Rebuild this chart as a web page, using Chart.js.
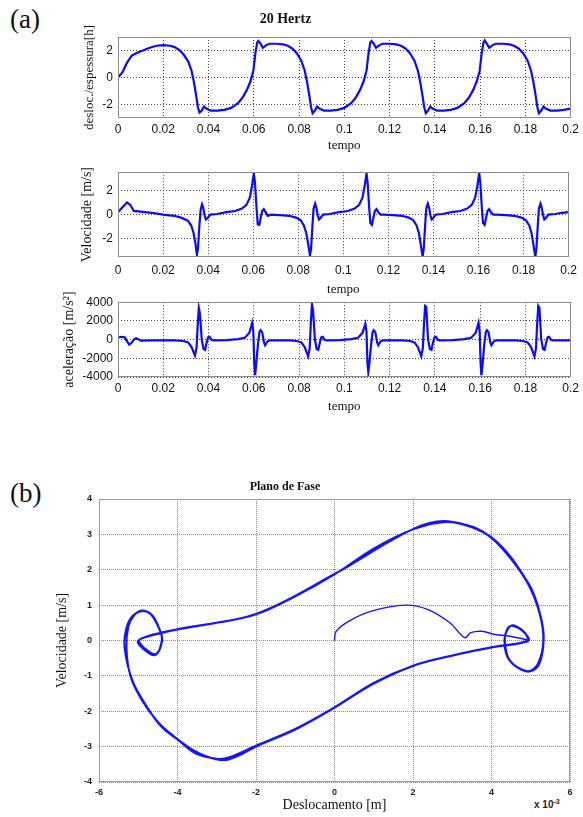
<!DOCTYPE html>
<html><head><meta charset="utf-8">
<script src="https://cdn.jsdelivr.net/npm/chart.js@4.4.0/dist/chart.umd.min.js"></script>
<style>
body{margin:0;background:#fff;width:583px;height:817px;position:relative;overflow:hidden}
canvas{position:absolute;left:0}
.lbl{position:absolute;font-family:"Liberation Serif","DejaVu Serif",serif;font-size:27px;color:#111}
.exp{position:absolute;font-family:"Liberation Sans",Arial,sans-serif;font-size:10px;font-weight:bold;color:#222}
</style></head><body>
<div class="lbl" style="left:10px;top:4px">(a)</div>
<div class="lbl" style="left:10px;top:478px">(b)</div>
<div class="exp" style="left:534px;top:798px">x 10<sup style="font-size:7px">-3</sup></div>
<canvas id="c1" width="583" height="160" style="top:0px"></canvas>
<canvas id="c2" width="583" height="140" style="top:160px"></canvas>
<canvas id="c3" width="583" height="140" style="top:290px"></canvas>
<canvas id="c4" width="583" height="377" style="top:440px"></canvas>
<script>
// ---------- data ----------
const timeTicks = [0,0.02,0.04,0.06,0.08,0.1,0.12,0.14,0.16,0.18,0.2];
const timeTickLabels = ["0","0.02","0.04","0.06","0.08","0.1","0.12","0.14","0.16","0.18","0.2"];
const dispTicks = [-2,0,2];
const velTicks = [-2,0,2];
const accTicks = [-4000,-2000,0,2000,4000];
const phaseXTicks = [-6,-4,-2,0,2,4,6];
const phaseYTicks = [-4,-3,-2,-1,0,1,2,3,4];

const dispT = [0,0.002,0.004,0.006,0.008,0.011,0.014,0.017,0.020,0.023,0.025,0.027,0.029,0.031,0.0325,0.0335,0.0345,0.0353,0.036,0.037,0.038,0.039,0.041,0.044,0.047,0.050,0.053,0.055,0.057,0.0585,0.0598,0.0607,0.0615,0.062,0.063,0.064,0.0655,0.067,0.070,0.073,0.075,0.077,0.079,0.081,0.0825,0.0835,0.0845,0.0853,0.086,0.087,0.088,0.089,0.091,0.094,0.097,0.100,0.103,0.105,0.107,0.1085,0.1098,0.1107,0.1115,0.112,0.113,0.114,0.1155,0.117,0.120,0.123,0.125,0.127,0.129,0.131,0.1325,0.1335,0.1345,0.1353,0.136,0.137,0.138,0.139,0.141,0.144,0.147,0.150,0.153,0.155,0.157,0.1585,0.1598,0.1607,0.1615,0.162,0.163,0.164,0.1655,0.167,0.170,0.173,0.175,0.177,0.179,0.181,0.1825,0.1835,0.1845,0.1853,0.186,0.187,0.188,0.189,0.191,0.194,0.197,0.2];
const dispV = [0,0.4,1.1,1.6,1.8,2.0,2.2,2.35,2.4,2.35,2.25,2.05,1.7,1.2,0.5,-0.3,-1.3,-2.2,-2.6,-2.45,-2.15,-2.3,-2.45,-2.45,-2.4,-2.25,-1.9,-1.5,-0.9,-0.3,0.5,1.8,2.6,2.7,2.5,2.2,2.4,2.5,2.5,2.45,2.35,2.15,1.8,1.25,0.5,-0.3,-1.3,-2.2,-2.65,-2.45,-2.15,-2.3,-2.45,-2.45,-2.4,-2.25,-1.9,-1.5,-0.9,-0.3,0.5,1.8,2.6,2.7,2.5,2.2,2.4,2.5,2.5,2.45,2.35,2.15,1.8,1.25,0.5,-0.3,-1.3,-2.2,-2.65,-2.45,-2.15,-2.3,-2.45,-2.45,-2.4,-2.25,-1.9,-1.5,-0.9,-0.3,0.5,1.8,2.6,2.75,2.5,2.2,2.4,2.5,2.5,2.45,2.35,2.15,1.8,1.25,0.5,-0.3,-1.3,-2.2,-2.65,-2.45,-2.15,-2.3,-2.45,-2.45,-2.4,-2.3];

const velT = [0,0.002,0.004,0.0055,0.007,0.010,0.015,0.020,0.025,0.028,0.031,0.0325,0.0335,0.0343,0.035,0.0355,0.036,0.0367,0.0373,0.0378,0.0385,0.039,0.0397,0.041,0.044,0.048,0.052,0.055,0.057,0.0585,0.0595,0.0603,0.0608,0.0615,0.062,0.0627,0.0633,0.064,0.0647,0.0655,0.0665,0.068,0.072,0.076,0.079,0.081,0.0825,0.0835,0.0843,0.0852,0.0857,0.0862,0.0868,0.0875,0.088,0.0887,0.0892,0.0898,0.091,0.094,0.098,0.102,0.105,0.107,0.1085,0.1095,0.1103,0.1108,0.1115,0.112,0.1127,0.1133,0.114,0.1147,0.1155,0.1165,0.118,0.122,0.126,0.129,0.131,0.1325,0.1335,0.1343,0.1352,0.1357,0.1362,0.1368,0.1375,0.138,0.1387,0.1392,0.1398,0.141,0.144,0.148,0.152,0.155,0.157,0.1585,0.1595,0.1603,0.1608,0.1615,0.162,0.1627,0.1633,0.164,0.1647,0.1655,0.1665,0.168,0.172,0.176,0.179,0.181,0.1825,0.1835,0.1843,0.1852,0.1857,0.1862,0.1868,0.1875,0.188,0.1887,0.1892,0.1898,0.191,0.194,0.197,0.2];
const velV = [0.2,0.6,1.0,0.8,0.3,0.25,0.15,0.0,-0.1,-0.25,-0.5,-0.9,-1.5,-2.3,-3.3,-2.8,-1.2,0.4,0.85,0.6,-0.1,-0.4,-0.3,0.0,0.05,0.2,0.3,0.5,0.8,1.4,2.4,3.4,2.6,0.5,-0.8,-0.85,-0.3,0.3,0.45,0.2,-0.1,0.0,-0.05,-0.1,-0.25,-0.45,-0.9,-1.5,-2.3,-3.4,-2.8,-1.2,0.5,0.9,0.6,-0.1,-0.4,-0.3,0.0,0.05,0.2,0.3,0.5,0.8,1.4,2.4,3.4,2.6,0.5,-0.7,-0.85,-0.3,0.3,0.45,0.2,0.0,0.0,-0.05,-0.1,-0.25,-0.45,-0.9,-1.5,-2.4,-3.5,-2.8,-1.2,0.5,0.9,0.6,-0.1,-0.4,-0.3,0.0,0.05,0.2,0.3,0.5,0.8,1.4,2.4,3.45,2.6,0.5,-0.7,-0.85,-0.3,0.3,0.45,0.2,0.0,0.0,-0.05,-0.1,-0.25,-0.45,-0.9,-1.5,-2.4,-3.5,-2.8,-1.2,0.5,0.9,0.6,-0.1,-0.4,-0.3,0.0,0.05,0.15,0.2];

const accT = [0,0.0015,0.003,0.004,0.005,0.006,0.007,0.008,0.009,0.010,0.015,0.020,0.025,0.029,0.031,0.0325,0.034,0.0347,0.0352,0.0357,0.0362,0.037,0.0378,0.0385,0.039,0.0398,0.0405,0.0412,0.042,0.048,0.053,0.056,0.058,0.0593,0.0598,0.0602,0.0606,0.061,0.0618,0.0625,0.063,0.0637,0.0645,0.065,0.066,0.067,0.072,0.076,0.079,0.081,0.0825,0.084,0.0847,0.0852,0.0857,0.0862,0.087,0.0878,0.0885,0.089,0.0898,0.0905,0.0912,0.092,0.098,0.103,0.106,0.108,0.1093,0.1098,0.1102,0.1106,0.111,0.1118,0.1125,0.113,0.1137,0.1145,0.115,0.116,0.117,0.122,0.126,0.129,0.131,0.1325,0.134,0.1347,0.1352,0.1357,0.1362,0.137,0.1378,0.1385,0.139,0.1398,0.1405,0.1412,0.142,0.148,0.153,0.156,0.158,0.1593,0.1598,0.1602,0.1606,0.161,0.1618,0.1625,0.163,0.1637,0.1645,0.165,0.166,0.167,0.172,0.176,0.179,0.181,0.1825,0.184,0.1847,0.1852,0.1857,0.1862,0.187,0.1878,0.1885,0.189,0.1898,0.1905,0.1912,0.192,0.2];
const accV = [200,300,250,-200,-550,-350,0,150,50,-100,-80,-80,-80,-150,-300,-800,-1700,-900,1500,3400,2800,0,-1000,-1100,-500,250,300,0,-80,-50,50,200,700,1800,800,-2500,-3800,-2800,-600,800,1000,800,-300,-600,-200,-80,-80,-80,-150,-300,-800,-1800,-900,1800,3800,3100,0,-1000,-1100,-500,250,300,0,-80,-50,50,200,700,1700,800,-2500,-3500,-2700,-600,800,1000,800,-300,-600,-200,-80,-80,-80,-150,-300,-800,-1800,-900,1700,3600,3500,0,-1000,-1100,-500,250,300,0,-80,-50,50,200,700,1800,800,-2500,-3800,-2800,-600,800,1000,800,-300,-600,-200,-80,-80,-80,-150,-300,-800,-1800,-900,1700,3600,3400,0,-1000,-1100,-500,250,300,0,-80,-80];

// phase plane: displacement (x 10^-3 m) and velocity (m/s)
const phaseX = [0,0.04,0.37,0.94,1.8,2.37,2.94,3.32,3.47,3.75,4.09,4.47,4.94,
 4,3,2,1,0,-1,-2,-2.68,-2.96,-3.53,-4,-4.4,-4.77,-5.15,-5.35,-5.3,-5.15,-4.91,-4.68,-4.44,-4.39,-4.54,-4.77,-4.98,
 -4.8,-4,-3,-2,-1,0,1,2,2.85,3.5,4,4.5,4.94,5.23,5.32,5.18,4.92,4.47,4.34,4.42,4.56,4.8,4.94,
 4,3,2,1,0,-1,-2,-2.5,-2.8,-3.2,-3.6,-4.1,-4.5,-4.9,-5.2,-5.3,-5.25,-5.1,-4.9,-4.65,-4.45,-4.4,-4.55,-4.8,-5,
 -4,-2,0,2,2.9,4,4.95,5.25,5.33,5.2,4.9,4.45,4.33,4.45,4.6,4.85,4.95];
const phaseY = [0,0.26,0.55,0.83,1.0,0.88,0.5,0.08,0.22,0.26,0.17,0.12,-0.02,
 -0.19,-0.42,-0.71,-1.2,-1.89,-2.5,-2.97,-3.3,-3.35,-3.2,-2.8,-2.45,-1.89,-1.13,-0.19,0.36,0.69,0.83,0.74,0.26,0,-0.38,-0.28,0,
 0.1,0.31,0.5,0.74,1.25,1.87,2.6,3.14,3.35,3.2,2.9,2.3,1.58,0.74,0,-0.66,-0.87,-0.57,0,0.36,0.41,0.26,0,
 -0.2,-0.43,-0.72,-1.22,-1.9,-2.52,-3.0,-3.28,-3.38,-3.3,-3.1,-2.7,-2.3,-1.7,-1.0,-0.2,0.4,0.72,0.85,0.72,0.3,0,-0.4,-0.3,0,
 0.32,0.75,1.88,3.15,3.37,2.92,1.6,0.7,0,-0.7,-0.88,-0.55,0,0.38,0.42,0.22,0];

// ---------- helpers ----------
const pts = (xs, ys) => xs.map((x, i) => ({x, y: ys[i]}));
const frame = {
  id: 'frame',
  afterDraw(chart, args, o) {
    const {ctx, chartArea: a} = chart;
    ctx.save(); ctx.strokeStyle = o.color || '#8a8a8a'; ctx.lineWidth = 1;
    ctx.strokeRect(Math.round(a.left) + 0.5, Math.round(a.top) + 0.5, Math.round(a.right - a.left) - 1, Math.round(a.bottom - a.top) - 1);
    ctx.restore();
  }
};
const sansTick = {family: '"Liberation Sans", Arial, sans-serif', size: 12};
const serifFam = '"Liberation Serif", "Times New Roman", serif';
const gridA = {color: 'rgba(30,30,30,0.85)', lineWidth: 1, drawTicks: false, tickLength: 0};
const gridB = {color: 'rgba(110,110,110,0.8)', lineWidth: 1, drawTicks: false, tickLength: 0};

function timeChart(id, cfg) {
  return new Chart(document.getElementById(id), {
    type: 'scatter',
    data: {datasets: [{data: pts(cfg.t, cfg.v), showLine: true, borderColor: '#0a0aff', borderWidth: 2.2, pointRadius: 0, tension: 0, fill: false}]},
    plugins: [frame],
    options: {
      responsive: false, animation: false, devicePixelRatio: 1,
      layout: {padding: {left: 0, right: 12, top: cfg.padTop, bottom: 0}},
      plugins: {legend: {display: false}, tooltip: {enabled: false},
        title: cfg.title ? {display: true, text: cfg.title, color: '#111',
          font: {family: serifFam, size: 14, weight: 'bold', lineHeight: 1},
          padding: {top: 12, bottom: 11}} : {display: false},
        frame: {color: '#8a8a8a'}},
      scales: {
        x: {type: 'linear', min: 0, max: 0.2,
          afterBuildTicks: s => { s.ticks = timeTicks.map(v => ({value: v})); },
          afterFit: s => { s.height = cfg.xh; },
          ticks: {font: sansTick, color: '#111', padding: cfg.xpad, maxRotation: 0, autoSkip: false,
            callback: (v, i) => timeTickLabels[i]},
          grid: gridA,
          border: {display: false, dash: [1, 2]},
          title: {display: true, text: 'tempo', color: '#111', font: {family: serifFam, size: 13}, padding: {top: 0, bottom: cfg.tpad}}},
        y: {type: 'linear', min: cfg.ymin, max: cfg.ymax,
          afterBuildTicks: s => { s.ticks = cfg.yt.map(v => ({value: v})); },
          afterFit: s => { s.width = 118; },
          ticks: {font: sansTick, color: '#111', padding: 5, autoSkip: false, callback: v => String(v)},
          grid: gridA,
          border: {display: false, dash: [1, 2]},
          title: {display: true, text: cfg.ylab, color: '#111', font: {family: serifFam, size: cfg.ylabSize}, padding: {top: cfg.ylx, bottom: 0}}}
      }
    }
  });
}

timeChart('c1', {t: dispT, v: dispV, ymin: -3, ymax: 3, yt: dispTicks, padTop: 0, title: '20 Hertz', xh: 42, xpad: 4, tpad: 7, ylab: 'desloc./espessura[h]', ylabSize: 13, ylx: 82});
timeChart('c2', {t: velT, v: velV, ymin: -3.5, ymax: 3.5, yt: velTicks, padTop: 8, xh: 43, xpad: 6, tpad: 3, ylab: 'Velocidade [m/s]', ylabSize: 14, ylx: 79});
timeChart('c3', {t: accT, v: accV, ymin: -4000, ymax: 4000, yt: accTicks, padTop: 8, xh: 53, xpad: 4, tpad: 16, ylab: 'aceleração [m/s²]', ylabSize: 14, ylx: 61});

new Chart(document.getElementById('c4'), {
  type: 'scatter',
  data: {datasets: [{data: pts(phaseX, phaseY), showLine: true, borderColor: '#1414ff', borderWidth: 2, pointRadius: 0, tension: 0.35, fill: false,
    segment: {borderWidth: c => c.p0DataIndex < 12 ? 1.4 : 2}}]},
  plugins: [frame],
  options: {
    responsive: false, animation: false, devicePixelRatio: 1,
    layout: {padding: {left: 0, right: 13, top: 0, bottom: 0}},
    plugins: {legend: {display: false}, tooltip: {enabled: false},
      title: {display: true, text: 'Plano de Fase', color: '#111',
        font: {family: serifFam, size: 12, weight: 'bold', lineHeight: 1},
        padding: {top: 41, bottom: 6}},
      frame: {color: '#9a9a9a'}},
    scales: {
      x: {type: 'linear', min: -6, max: 6,
        afterBuildTicks: s => { s.ticks = phaseXTicks.map(v => ({value: v})); },
        afterFit: s => { s.height = 35; },
        ticks: {font: {family: '"Liberation Sans", Arial, sans-serif', size: 9, weight: 'bold'}, color: '#222', padding: 5, maxRotation: 0, autoSkip: false, callback: v => String(v)},
        grid: gridB,
        border: {display: false, dash: [1, 1]},
        title: {display: true, text: 'Deslocamento [m]', color: '#111', font: {family: serifFam, size: 14}, padding: {top: 0, bottom: 3}}},
      y: {type: 'linear', min: -4, max: 4,
        afterBuildTicks: s => { s.ticks = phaseYTicks.map(v => ({value: v})); },
        afterFit: s => { s.width = 99; },
        ticks: {font: {family: '"Liberation Sans", Arial, sans-serif', size: 9, weight: 'bold'}, color: '#222', padding: 7, autoSkip: false, callback: v => String(v)},
        grid: gridB,
        border: {display: false, dash: [1, 1]},
        title: {display: true, text: 'Velocidade [m/s]', color: '#111', font: {family: serifFam, size: 14}, padding: {top: 54, bottom: 0}}}
    }
  }
});
</script></body></html>
